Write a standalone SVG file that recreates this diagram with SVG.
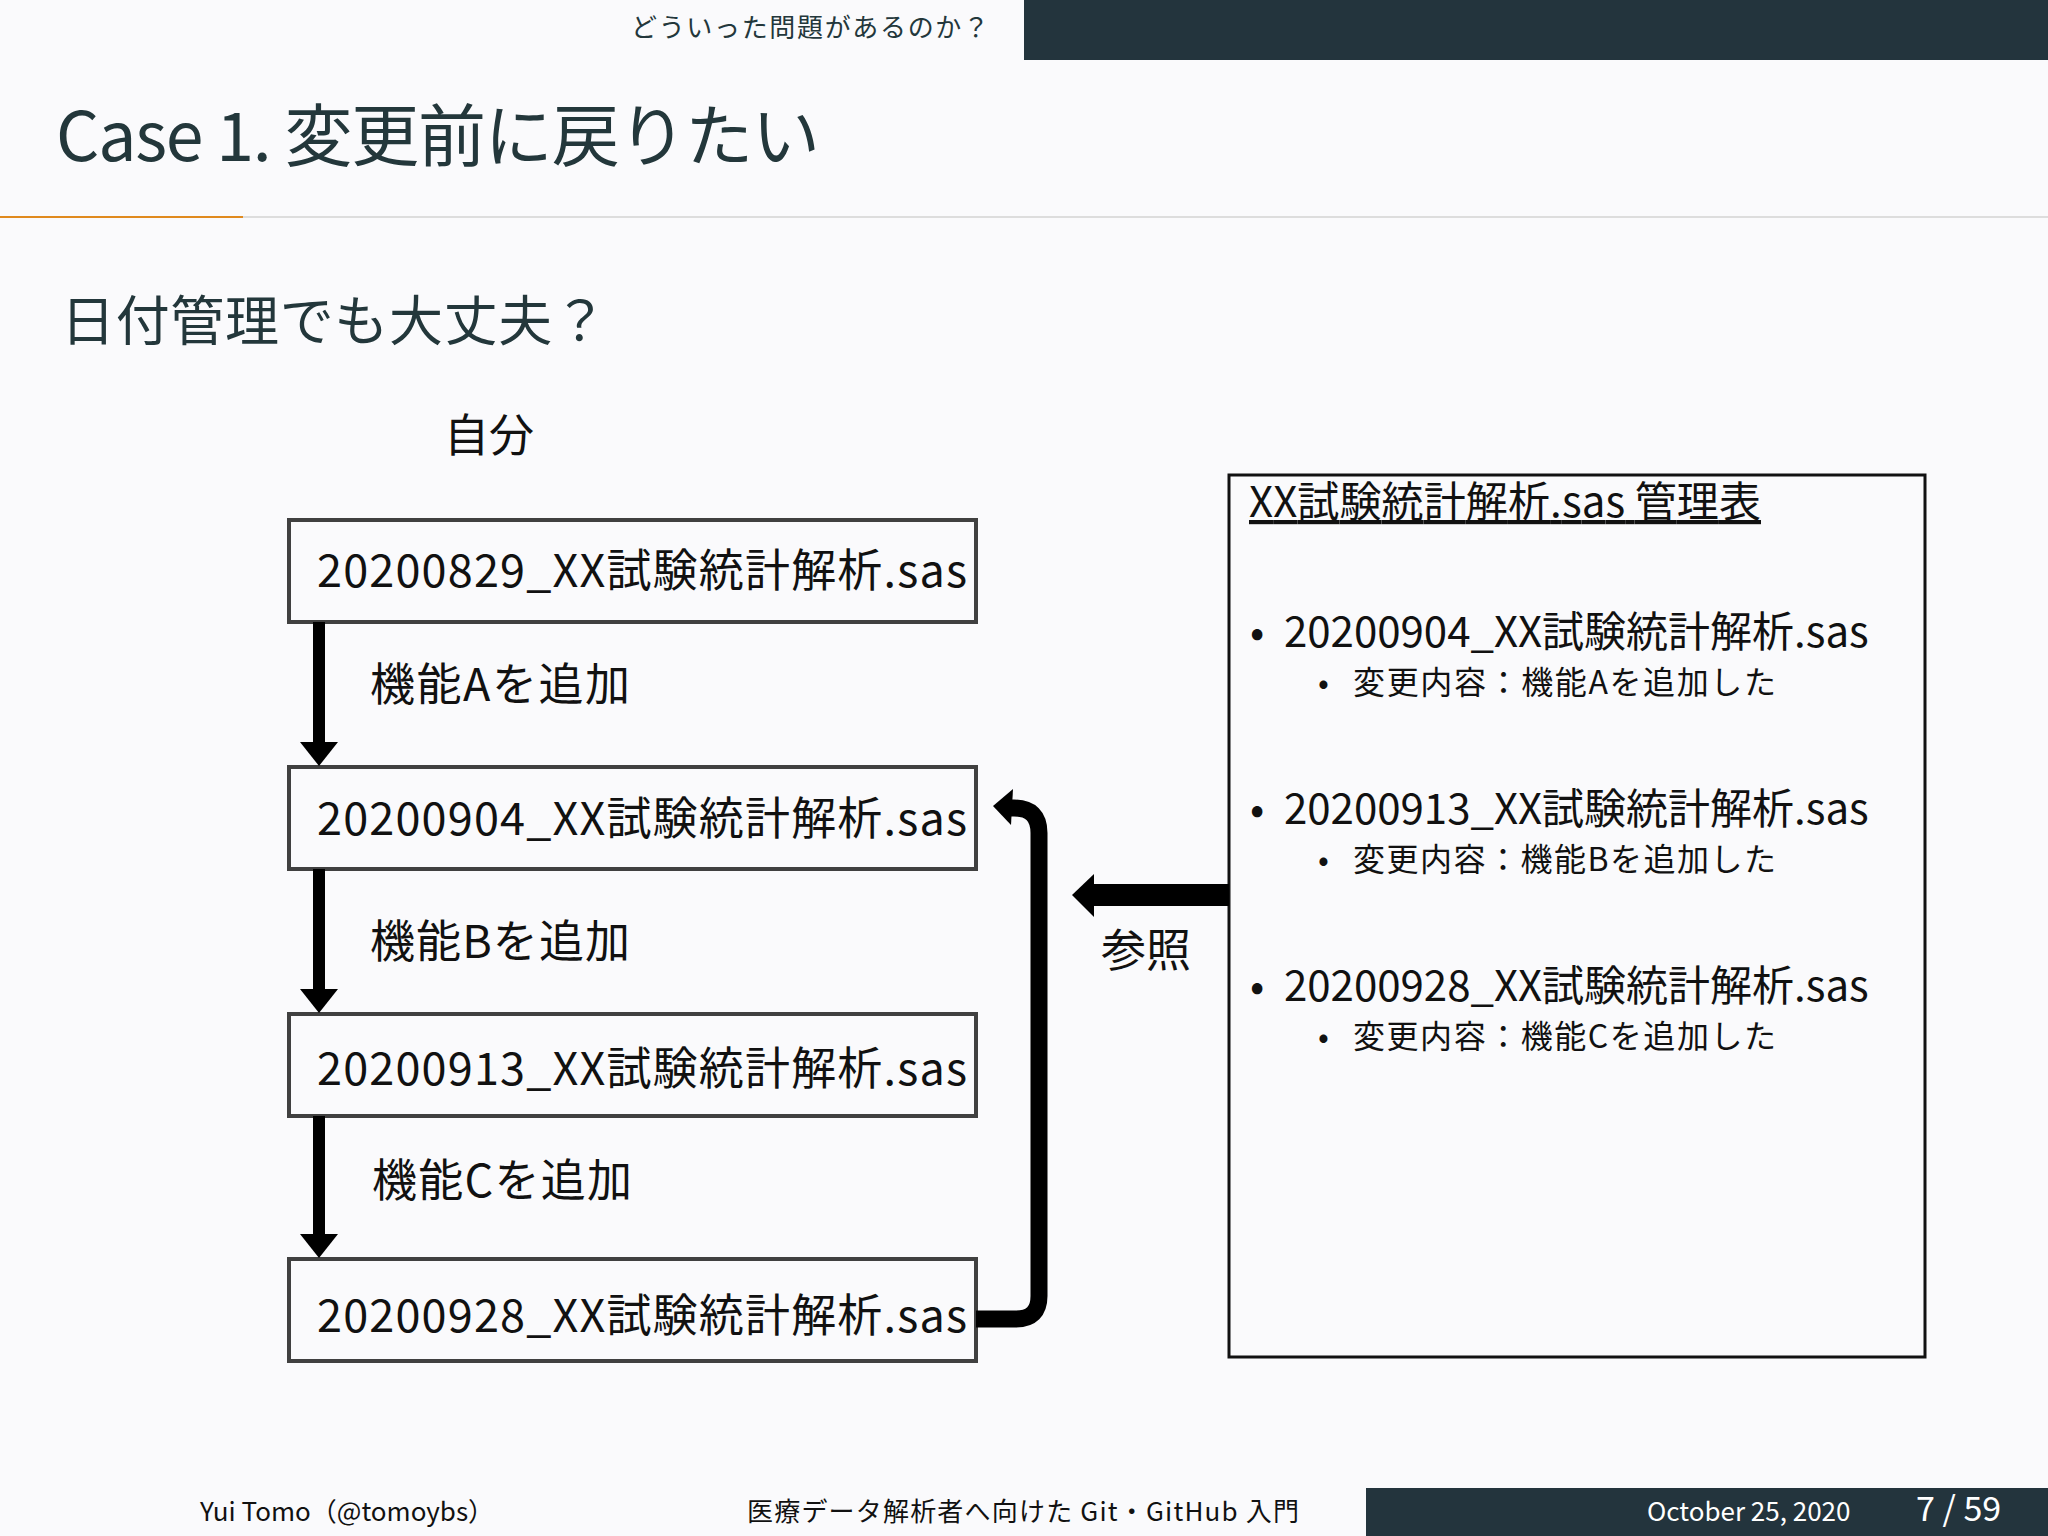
<svg xmlns="http://www.w3.org/2000/svg" width="2048" height="1536" viewBox="0 0 2048 1536">
<style>
text{font-family:"Noto Sans CJK JP","Noto Sans",sans-serif;fill:#111}
.box{fill:none;stroke:#404040;stroke-width:4}
.fn{font-size:45px}
.lab{font-size:45px}
.sub{font-size:32px}
.hd{fill:#23373b}
</style>
<rect width="2048" height="1536" fill="#fafafc"/>
<rect x="1024" y="0" width="1024" height="60" fill="#23343d"/>
<text x="631" y="37" font-size="26" class="hd" textLength="358" lengthAdjust="spacing">どういった問題があるのか？</text>
<text x="56" y="161" font-size="68" class="hd" textLength="764" lengthAdjust="spacing">Case 1. 変更前に戻りたい</text>
<rect x="0" y="216" width="2048" height="2" fill="#ddd"/>
<rect x="0" y="216" width="243" height="2" fill="#e08a1e"/>
<text x="61" y="341" font-size="54" class="hd" textLength="546" lengthAdjust="spacing">日付管理でも大丈夫？</text>
<text x="444" y="452" font-size="45">自分</text>

<g id="box1"><rect class="box" x="289" y="520" width="687" height="102"/><text class="fn" x="317" y="587" textLength="650" lengthAdjust="spacing">20200829_XX試験統計解析.sas</text></g>
<g id="box2"><rect class="box" x="289" y="767" width="687" height="102"/><text class="fn" x="317" y="835" textLength="650" lengthAdjust="spacing">20200904_XX試験統計解析.sas</text></g>
<g id="box3"><rect class="box" x="289" y="1014" width="687" height="102"/><text class="fn" x="317" y="1085" textLength="650" lengthAdjust="spacing">20200913_XX試験統計解析.sas</text></g>
<g id="box4"><rect class="box" x="289" y="1259" width="687" height="102"/><text class="fn" x="317" y="1332" textLength="650" lengthAdjust="spacing">20200928_XX試験統計解析.sas</text></g>

<g id="table">
<rect x="1229" y="475" width="696" height="882" fill="none" stroke="#111" stroke-width="3"/>
<text x="1249" y="517" font-size="42" text-decoration="underline" textLength="512" lengthAdjust="spacing">XX試験統計解析.sas 管理表</text>
<text x="1250" y="647" font-size="42">•</text><text x="1284" y="647" font-size="42">20200904_XX試験統計解析.sas</text>
<text x="1318" y="694" class="sub">•</text><text x="1353" y="694" class="sub" textLength="423" lengthAdjust="spacing">変更内容：機能Aを追加した</text>
<text x="1250" y="824" font-size="42">•</text><text x="1284" y="824" font-size="42">20200913_XX試験統計解析.sas</text>
<text x="1318" y="871" class="sub">•</text><text x="1353" y="871" class="sub" textLength="423" lengthAdjust="spacing">変更内容：機能Bを追加した</text>
<text x="1250" y="1001" font-size="42">•</text><text x="1284" y="1001" font-size="42">20200928_XX試験統計解析.sas</text>
<text x="1318" y="1048" class="sub">•</text><text x="1353" y="1048" class="sub" textLength="423" lengthAdjust="spacing">変更内容：機能Cを追加した</text>
</g>

<g id="connectors" fill="#000">
<rect x="313" y="622" width="12" height="122"/><polygon points="300,742 338,742 319,766"/>
<rect x="313" y="869" width="12" height="122"/><polygon points="300,989 338,989 319,1013"/>
<rect x="313" y="1116" width="12" height="120"/><polygon points="300,1234 338,1234 319,1258"/>
<path d="M976,1319 H1016 Q1039,1319 1039,1296 V833 Q1039,808 1014,808 H1005" fill="none" stroke="#000" stroke-width="17"/>
<polygon points="993,806 1013,789 1011,825"/>
<rect x="1092" y="884" width="137" height="22"/><polygon points="1072,895 1094,874 1094,917"/>
<text class="lab" x="370" y="701" textLength="260" lengthAdjust="spacing">機能Aを追加</text>
<text class="lab" x="370" y="958" textLength="260" lengthAdjust="spacing">機能Bを追加</text>
<text class="lab" x="372" y="1197" textLength="260" lengthAdjust="spacing">機能Cを追加</text>
<text class="lab" x="1101" y="967" textLength="90" lengthAdjust="spacing">参照</text>
</g>

<rect x="1366" y="1488" width="682" height="48" fill="#23343d"/>
<text x="200" y="1521" font-size="26" fill="#333">Yui Tomo（@tomoybs）</text>
<text x="747" y="1521" font-size="26" fill="#333" textLength="552" lengthAdjust="spacing">医療データ解析者へ向けた Git・GitHub 入門</text>
<text x="1647" y="1521" font-size="26" style="fill:#fff">October 25, 2020</text>
<text x="1916" y="1521" font-size="34" style="fill:#fff">7 / 59</text>
</svg>
